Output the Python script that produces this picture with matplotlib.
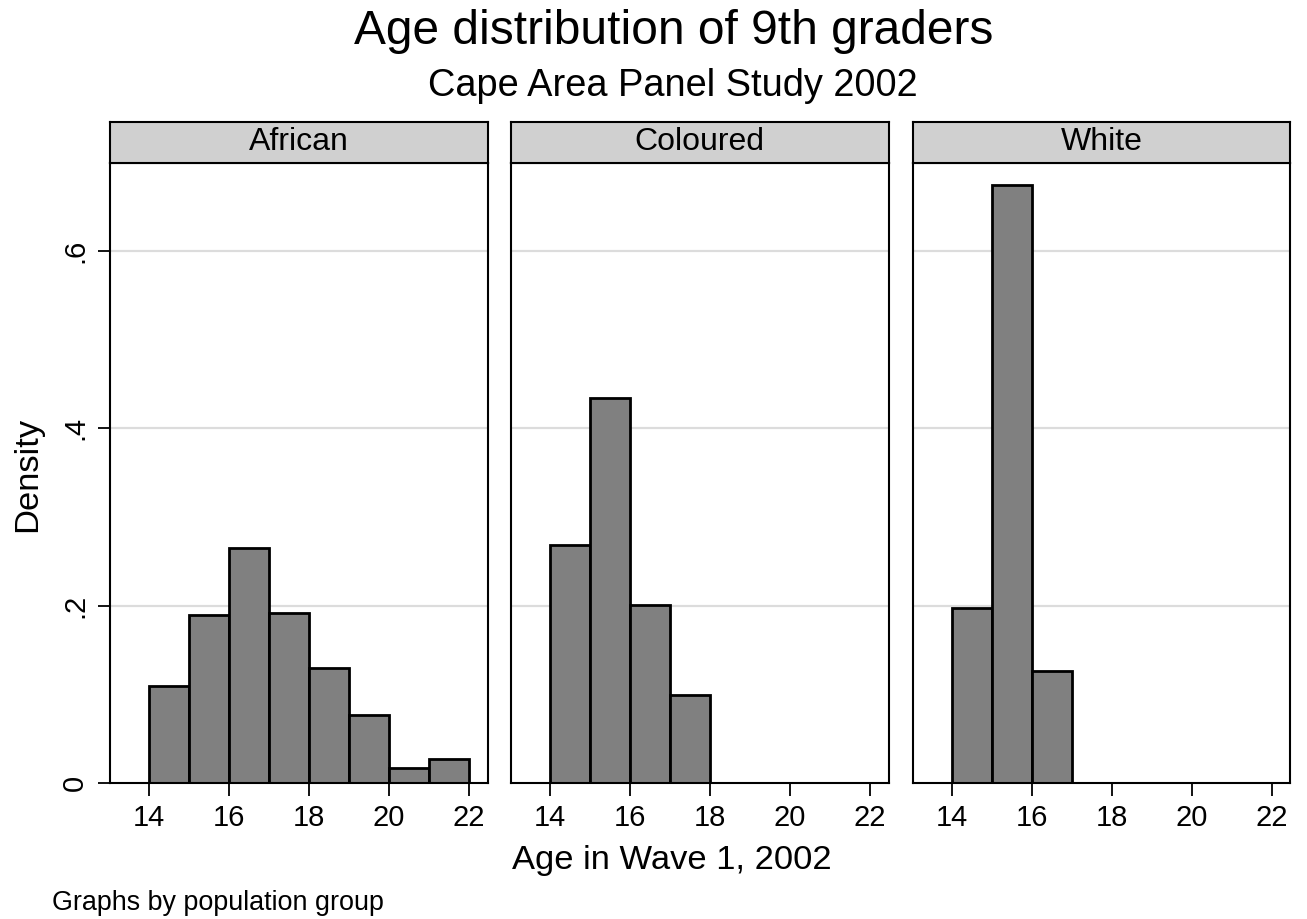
import matplotlib
matplotlib.use('Agg')
import matplotlib.pyplot as plt

plt.rcParams['font.family'] = ['Liberation Sans', 'DejaVu Sans']

# ---- data ----
groups = ['African', 'Coloured', 'White']
african_left = [14, 15, 16, 17, 18, 19, 20, 21]
african_density = [0.109, 0.189, 0.265, 0.192, 0.130, 0.077, 0.017, 0.027]
coloured_left = [14, 15, 16, 17]
coloured_density = [0.268, 0.434, 0.201, 0.099]
white_left = [14, 15, 16]
white_density = [0.197, 0.675, 0.126]
x_ticks = [14, 16, 18, 20, 22]
y_ticks = [0, 0.2, 0.4, 0.6]
y_ticklabels = ['0', '.2', '.4', '.6']

series = [(african_left, african_density),
          (coloured_left, coloured_density),
          (white_left, white_density)]

W, H = 1307, 919
fig = plt.figure(figsize=(W / 100, H / 100), dpi=100)
fig.patch.set_facecolor('white')

def fx(px):
    return px / W

def fy(py):
    return 1 - py / H

lefts = [110, 511, 912.7]
pw = 377.5
top, bottom = 163.3, 783
strip_top = 121.7

for i, (name, (lft, dens)) in enumerate(zip(groups, series)):
    ax = fig.add_axes([fx(lefts[i]), fy(bottom), fx(pw), (bottom - top) / H])
    ax.set_xlim(13.03, 22.46)
    ax.set_ylim(0, 0.699)
    for yv in y_ticks[1:]:
        ax.axhline(yv, color='#dcdcdc', lw=1.6, zorder=0)
    ax.bar(lft, dens, width=1.0, align='edge', color='#808080',
           edgecolor='black', linewidth=2.0, zorder=2)
    ax.set_xticks(x_ticks)
    ax.set_xticklabels([str(t) for t in x_ticks], fontsize=21)
    ax.tick_params(axis='x', direction='out', length=9, width=1.3, pad=6)
    for sp in ax.spines.values():
        sp.set_linewidth(1.5)
        sp.set_color('black')
    if i == 0:
        ax.set_yticks(y_ticks)
        ax.set_yticklabels(y_ticklabels, fontsize=21, rotation=90, va='center')
        ax.tick_params(axis='y', direction='out', length=9, width=1.3, pad=6)
    else:
        ax.set_yticks([])
    # strip
    sax = fig.add_axes([fx(lefts[i]), fy(top), fx(pw), (top - strip_top) / H])
    sax.set_facecolor('#d0d0d0')
    sax.set_xticks([])
    sax.set_yticks([])
    for sp in sax.spines.values():
        sp.set_linewidth(1.5)
        sp.set_color('black')
    sax.text(0.5, 0.5, name, ha='center', va='center', fontsize=23,
             transform=sax.transAxes)

fig.text(fx(674), fy(31), 'Age distribution of 9th graders', ha='center',
         va='center', fontsize=34.5)
fig.text(fx(673), fy(86), 'Cape Area Panel Study 2002', ha='center',
         va='center', fontsize=27.4)
fig.text(fx(672), fy(860), 'Age in Wave 1, 2002', ha='center', va='center',
         fontsize=24.8)
fig.text(fx(28), fy(474), 'Density', ha='center', va='center', rotation=90,
         fontsize=24.8)
fig.text(fx(52), fy(903), 'Graphs by population group', ha='left',
         va='center', fontsize=19.4)

fig.savefig('out.png', dpi=100, facecolor='white')
